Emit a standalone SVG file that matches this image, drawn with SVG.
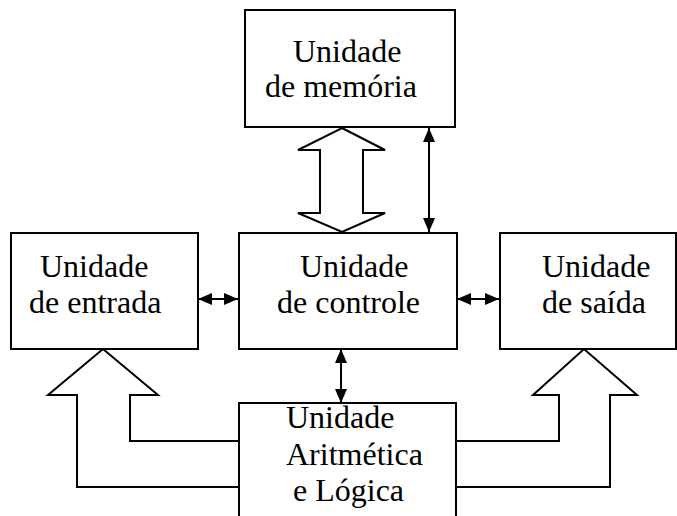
<svg xmlns="http://www.w3.org/2000/svg" width="677" height="516" viewBox="0 0 677 516">
<style>
.box{fill:#fff;stroke:#000;stroke-width:2}
.t{font-family:"Liberation Serif","Times New Roman",serif;font-size:32px;fill:#000}
.ln{fill:none;stroke:#000;stroke-width:2}
.big{fill:#fff;stroke:#000;stroke-width:2;stroke-linejoin:miter}
</style>
<defs>
<marker id="ah" markerUnits="userSpaceOnUse" markerWidth="14" markerHeight="12" refX="14" refY="6" orient="auto-start-reverse" viewBox="0 0 14 12">
<path d="M0,0 L14,6 L0,12 z" fill="#000"/>
</marker>
</defs>
<rect width="677" height="516" fill="#fff"/>
<g id="connectors">
<polygon class="big" points="342,128 385,150 363,150 363,213 385,213 342,232 298,213 320,213 320,150 298,150"/>
<line class="ln" x1="429" y1="128" x2="429" y2="232" marker-start="url(#ah)" marker-end="url(#ah)"/>
<line class="ln" x1="198" y1="299" x2="238" y2="299" marker-start="url(#ah)" marker-end="url(#ah)"/>
<line class="ln" x1="457" y1="299" x2="499" y2="299" marker-start="url(#ah)" marker-end="url(#ah)"/>
<line class="ln" x1="341" y1="349" x2="341" y2="403" marker-start="url(#ah)" marker-end="url(#ah)"/>
<path class="big" d="M239,441 H130 V395 H158 L103,349 L48,395 H77 V487 H239"/>
<path class="big" d="M456,441 H559 V395 H533 L584,349 L637,395 H610 V487 H456"/>
</g>
<g id="memoria">
<rect class="box" x="245" y="10" width="210" height="117"/>
<text class="t" x="293" y="62">Unidade</text>
<text class="t" x="265" y="97">de memória</text>
</g>
<g id="entrada">
<rect class="box" x="11" y="233" width="187" height="116"/>
<text class="t" x="40" y="277">Unidade</text>
<text class="t" x="29" y="313">de entrada</text>
</g>
<g id="controle">
<rect class="box" x="239" y="233" width="218" height="116"/>
<text class="t" x="300" y="277">Unidade</text>
<text class="t" x="277" y="313">de controle</text>
</g>
<g id="saida">
<rect class="box" x="500" y="233" width="176" height="116"/>
<text class="t" x="542" y="277">Unidade</text>
<text class="t" x="542" y="313">de saída</text>
</g>
<g id="ula">
<path class="ln" d="M239,517 V403 H456 V517"/>
<text class="t" x="286" y="428">Unidade</text>
<text class="t" x="286" y="465">Aritmética</text>
<text class="t" x="293" y="501">e Lógica</text>
</g>
</svg>
